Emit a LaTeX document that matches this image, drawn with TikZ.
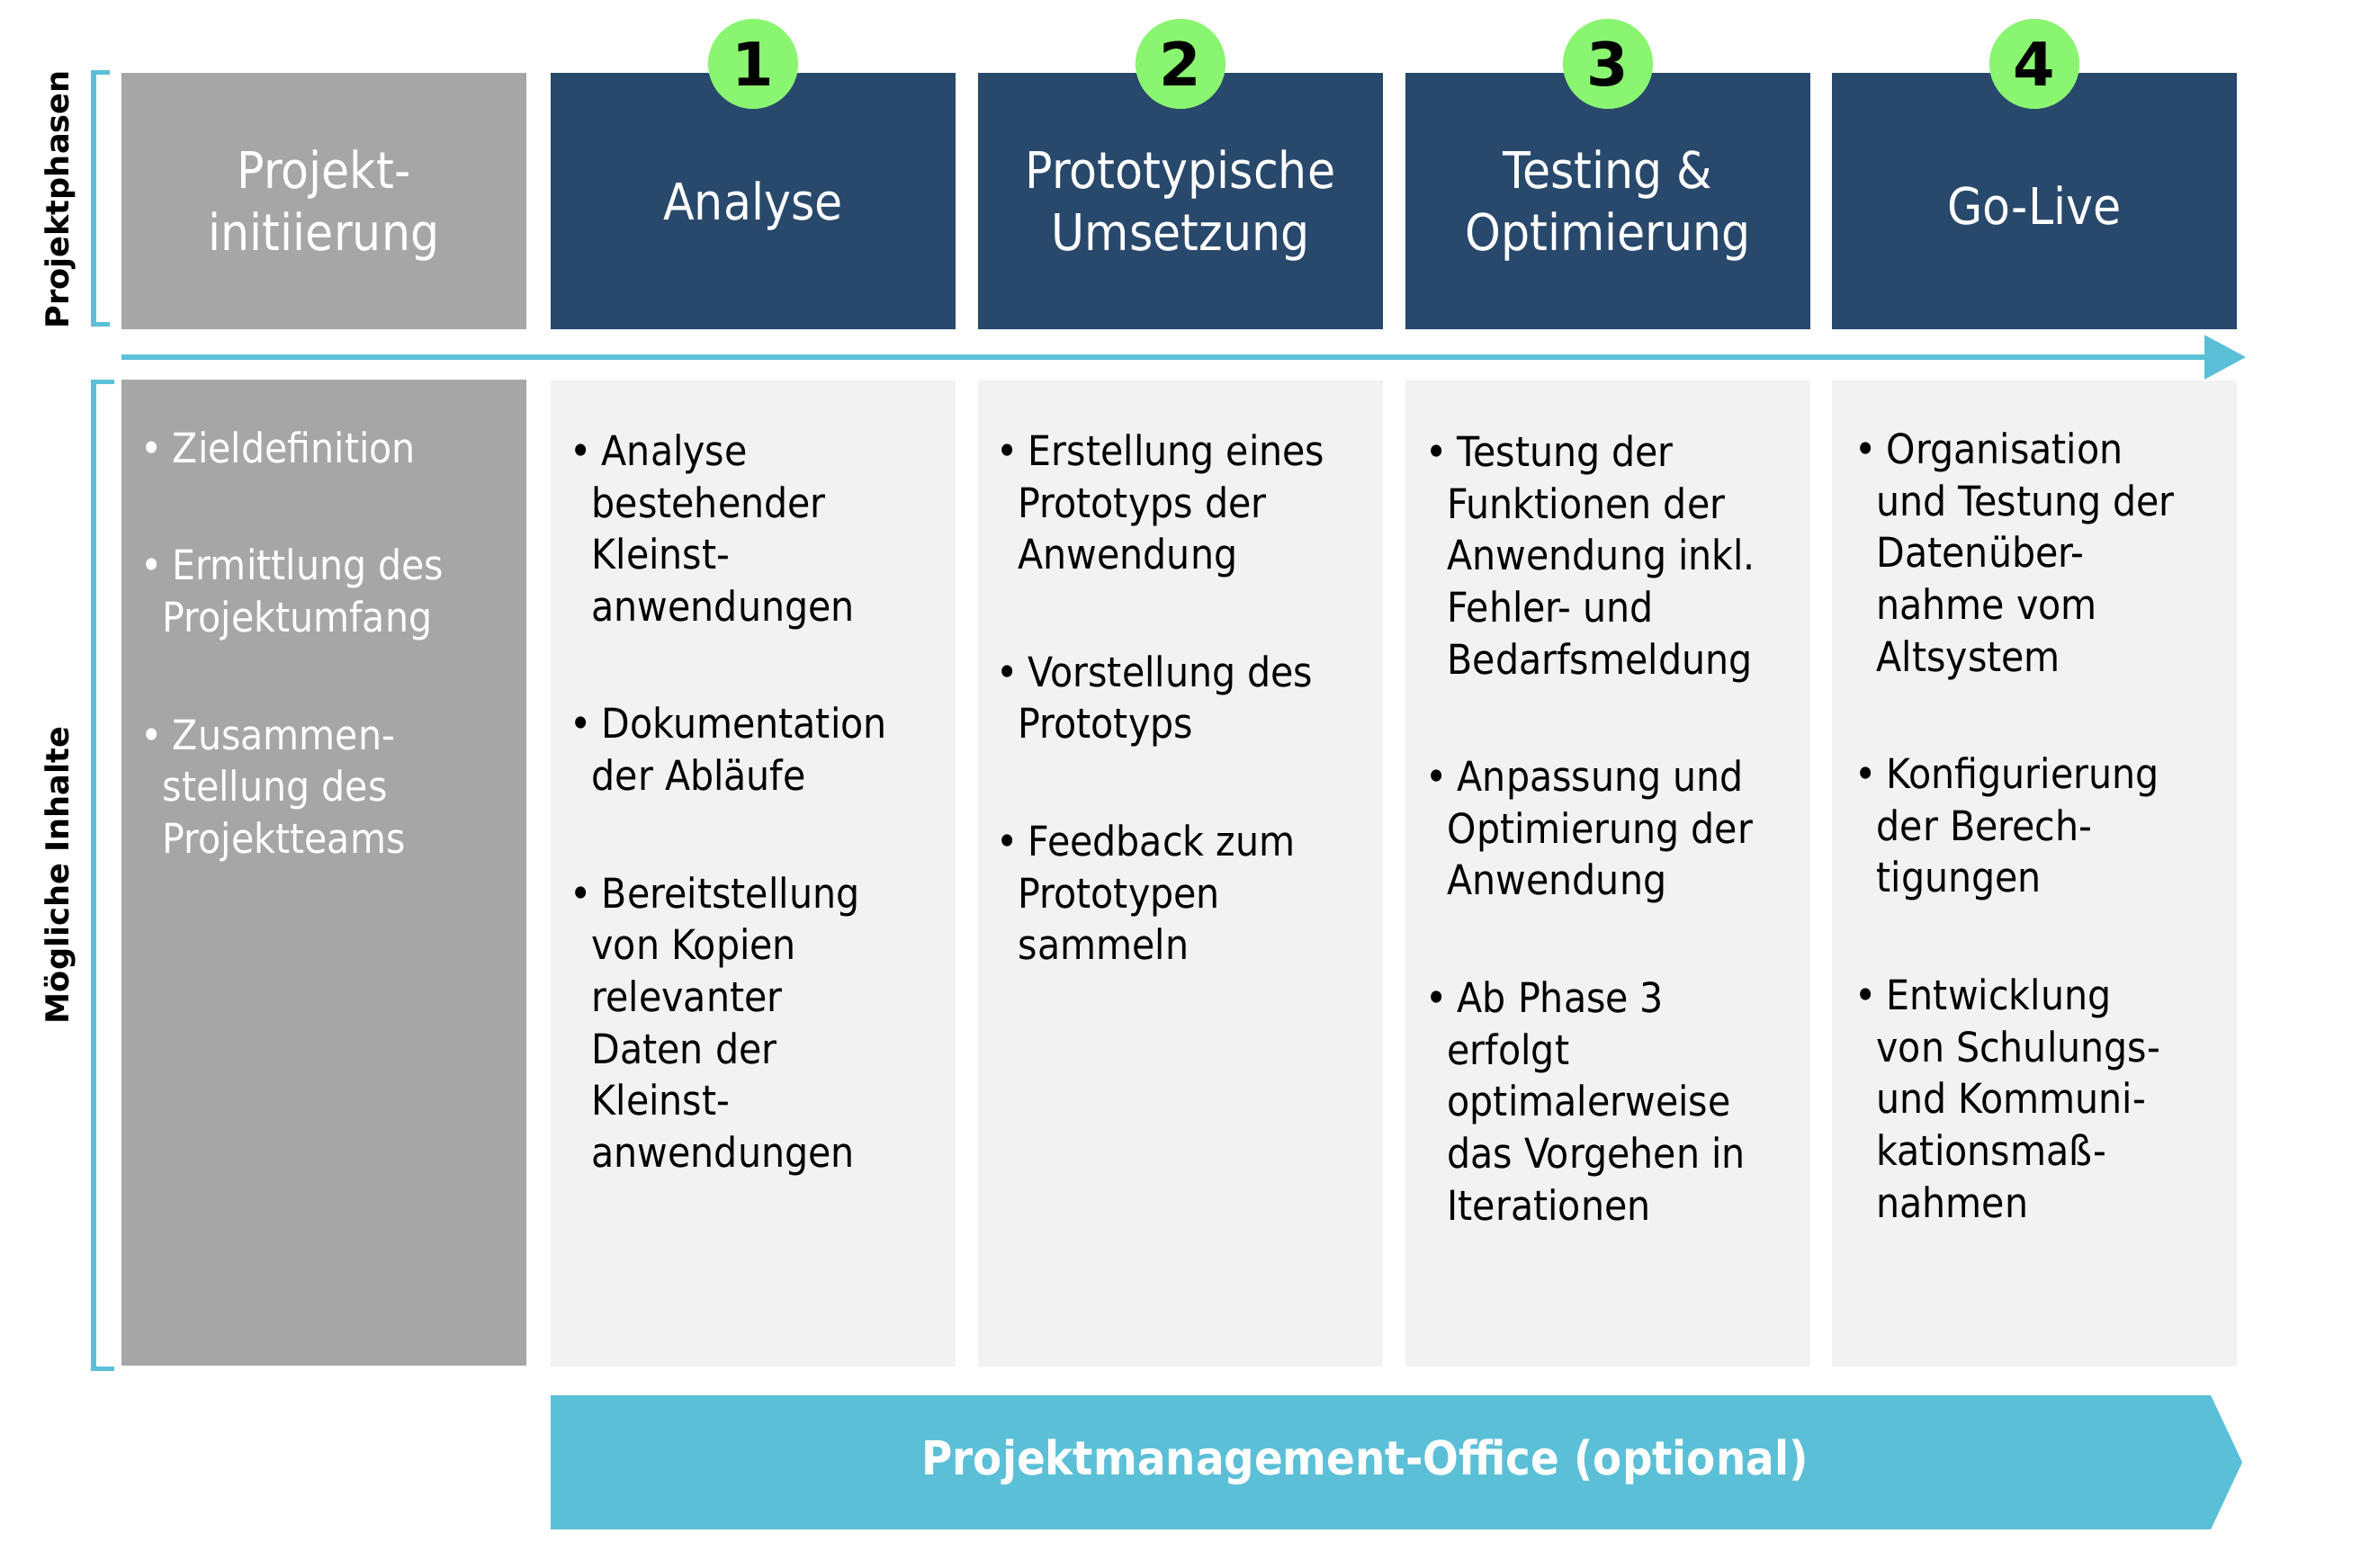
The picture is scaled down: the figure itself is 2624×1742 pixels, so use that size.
\documentclass[tikz,border=0pt]{standalone}
\usepackage{fontspec}
\IfFontExistsTF{DejaVu Sans Condensed}{\setmainfont{DejaVu Sans Condensed}}{\setmainfont{DejaVu Sans}[FakeStretch=0.9]}
\newfontfamily\labelfont{DejaVu Sans}
\usetikzlibrary{arrows.meta}
\definecolor{navy}{HTML}{28486C}
\definecolor{greybox}{HTML}{A6A6A6}
\definecolor{paleg}{HTML}{F2F2F2}
\definecolor{cyanb}{HTML}{5BC0D7}
\definecolor{greenb}{HTML}{8AF571}
\newcommand{\bul}{\makebox[10pt][l]{\textbullet}}
\newcommand{\cnt}{\hspace*{6.8pt}}
\begin{document}
\begin{tikzpicture}[x=0.01cm,y=-0.01cm,
    phase/.style={minimum width=4.49cm, minimum height=2.85cm, inner sep=0pt},
    phasetxt/.style={text=white, align=center, inner sep=0pt, font=\fontsize{16}{19.6}\selectfont},
    cell/.style={minimum width=4.49cm, minimum height=10.96cm, inner sep=0pt},
    num/.style={circle, fill=greenb, minimum size=1cm, inner sep=0pt, font=\labelfont\bfseries\fontsize{19}{19}\selectfont},
    items/.style={anchor=north west, align=left, inner sep=0pt, font=\fontsize{13}{16.4}\selectfont},
    side/.style={rotate=90, inner sep=0pt, font=\labelfont\bfseries\fontsize{10}{12}\selectfont},
    brace/.style={cyanb, line width=0.05cm}]
    \useasboundingbox (0,0) rectangle (2624,1742);
    % Phasen
    \node[phase, fill=greybox] (ph0) at (360,223.5) {};
    \node[phasetxt] (h0) at ([yshift=-0.05cm]ph0.center) {Projekt-\\initiierung};
    \node[cell, fill=greybox] (c0) at (360,970) {};
    \foreach \i/\x/\lab in {1/837/Analyse, 2/1312/{Prototypische\\Umsetzung}, 3/1787/{Testing \&\\Optimierung}, 4/2261/Go-Live}{
        \node[phase, fill=navy] (ph\i) at (\x,223.5) {};
        \node[phasetxt] (h\i) at ([yshift=-0.05cm]ph\i.center) {\lab};
        \node[num] (n\i) at (\x,71) {\i};
        \node[cell, fill=paleg] (c\i) at (\x,971) {};
    }
    % Zeitachse
    \coordinate (tl0) at (135,397);
    \coordinate (tl1) at (2496,397);
    \draw[cyanb, line width=0.06cm, -{Triangle[length=0.46cm,width=0.48cm]}] (tl0) -- (tl1);
    % Klammern
    \draw[brace] (122,80) -| (104,360) -- (122,360);
    \draw[brace] (127,424) -| (104,1521) -- (127,1521);
    \node[side] (lph) at (67,222) {Projektphasen};
    \node[side] (lmi) at (67,973) {Mögliche Inhalte};
    % Inhalte
    \node[items, text=white] (t0) at (156,479) {\bul Zieldefinition\\[20.7pt]
        \bul Ermittlung des\\\cnt Projektumfang\\[20.7pt]
        \bul Zusammen-\\\cnt stellung des\\\cnt Projektteams};
    \node[items] (t1) at (633,482) {\bul Analyse\\\cnt bestehender\\\cnt Kleinst-\\\cnt anwendungen\\[20.7pt]
        \bul Dokumentation\\\cnt der Abläufe\\[20.7pt]
        \bul Bereitstellung\\\cnt von Kopien\\\cnt relevanter\\\cnt Daten der\\\cnt Kleinst-\\\cnt anwendungen};
    \node[items] (t2) at (1107,482) {\bul Erstellung eines\\\cnt Prototyps der\\\cnt Anwendung\\[20.7pt]
        \bul Vorstellung des\\\cnt Prototyps\\[20.7pt]
        \bul Feedback zum\\\cnt Prototypen\\\cnt sammeln};
    \node[items] (t3) at (1584,483) {\bul Testung der\\\cnt Funktionen der\\\cnt Anwendung inkl.\\\cnt Fehler- und\\\cnt Bedarfsmeldung\\[20.7pt]
        \bul Anpassung und\\\cnt Optimierung der\\\cnt Anwendung\\[20.7pt]
        \bul Ab Phase 3\\\cnt erfolgt\\\cnt optimalerweise\\\cnt das Vorgehen in\\\cnt Iterationen};
    \node[items] (t4) at (2061,480) {\bul Organisation\\\cnt und Testung der\\\cnt Datenüber-\\\cnt nahme vom\\\cnt Altsystem\\[20.7pt]
        \bul Konfigurierung\\\cnt der Berech-\\\cnt tigungen\\[20.7pt]
        \bul Entwicklung\\\cnt von Schulungs-\\\cnt und Kommuni-\\\cnt kationsmaß-\\\cnt nahmen};
    % PMO
    \fill[cyanb] (612,1551) -- (2457,1551) -- (2492,1625.5) -- (2457,1700) -- (612,1700) -- cycle;
    \node[text=white, inner sep=0pt, font=\bfseries\fontsize{14.8}{17}\selectfont] (pmo) at (1517,1625.5) {Projektmanagement-Office (optional)};
\end{tikzpicture}
\end{document}
